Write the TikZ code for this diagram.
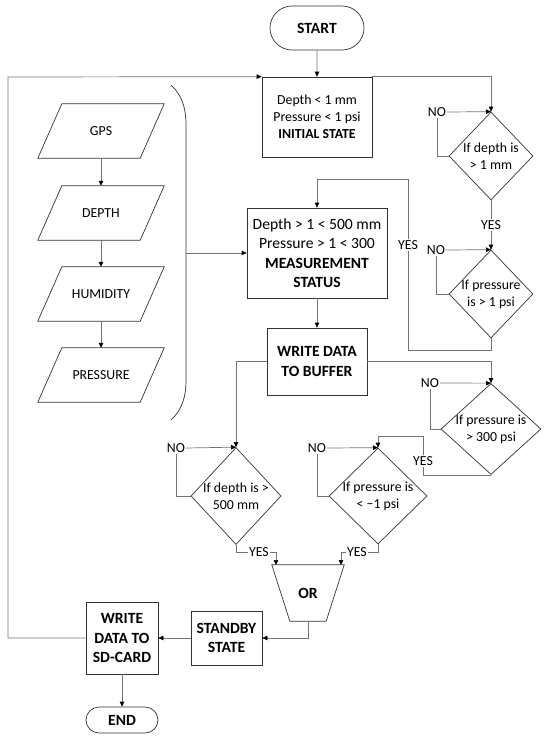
\documentclass[tikz,border=0pt]{standalone}
\usepackage{fontspec}
\setmainfont{Carlito}
\usetikzlibrary{shapes.geometric,shapes.misc,arrows.meta,calc}
\newcommand\txtA{\fontsize{13.8}{17}\selectfont}
\newcommand\txtB{\fontsize{15.6}{19.3}\selectfont}
\begin{document}
\begin{tikzpicture}[x=1pt,y=-1pt,
  shp/.style={draw=black!80,line width=0.7pt},
  conn/.style={draw=black!55,line width=0.7pt},
  arr/.style={-{Triangle[length=5pt,width=4.5pt,color=black]}},
  boxA/.style={shp,rectangle,inner sep=0pt,align=center,font=\txtB},
  term/.style={shp,rounded rectangle,inner sep=0pt,font=\txtB\bfseries},
  dia/.style={shp,diamond,inner sep=0pt},
  dlab/.style={font=\txtA,align=center},
  parabody/.style={rectangle,inner sep=0pt,minimum width=102pt,minimum height=54pt,font=\txtA},
  lab/.style={font=\txtA,inner sep=1pt}]
\useasboundingbox (0,0) rectangle (550,742);

% nodes
\node[term,minimum width=94pt,minimum height=44pt] (start) at (317,28) {START};
\node[boxA,font=\txtA,minimum width=110pt,minimum height=80pt] (init) at (317,117) {Depth < 1 mm\\Pressure < 1 psi\\\textbf{INITIAL STATE}};
\node[boxA,minimum width=140pt,minimum height=90pt] (meas) at (317,253) {Depth > 1 < 500 mm\\Pressure > 1 < 300\\\textbf{MEASUREMENT}\\\textbf{STATUS}};
\node[boxA,font=\txtB\bfseries,minimum width=100pt,minimum height=67pt] (buf) at (317,361.5) {WRITE DATA\\TO BUFFER};

\node[dia,minimum width=84pt,minimum height=88pt,label={[dlab]center:If depth is\\> 1 mm}] (d1) at (491,156) {};
\node[dia,minimum width=84pt,minimum height=88pt,label={[dlab]center:If pressure\\is > 1 psi}] (d2) at (491,294) {};
\node[dia,minimum width=100pt,minimum height=91pt,label={[dlab]center:If pressure is\\> 300 psi}] (d4) at (491,429) {};
\node[dia,minimum width=90pt,minimum height=97pt,label={[dlab]center:If depth is >\\500 mm}] (d3) at (236,496) {};
\node[dia,minimum width=98pt,minimum height=96pt,label={[dlab]center:If pressure is\\< −1 psi}] (d5) at (378,496) {};

\node[rectangle,inner sep=0pt,minimum width=36pt,minimum height=56pt,font=\txtB\bfseries] (or) at (308,593) {OR};
\draw[shp] ([xshift=-18pt]or.north west) -- ([xshift=18pt]or.north east) -- (or.south east) -- (or.south west) -- cycle;
\node[boxA,font=\txtB\bfseries,minimum width=71pt,minimum height=54pt] (standby) at (226.5,638) {STANDBY\\STATE};
\node[boxA,font=\txtB\bfseries,minimum width=72pt,minimum height=72pt] (sd) at (122,638) {WRITE\\DATA TO\\SD-CARD};
\node[term,minimum width=72pt,minimum height=26pt] (end) at (122,720) {END};

\node[parabody] (gps) at (101,131) {GPS};
\node[parabody] (depth) at (101,213) {DEPTH};
\node[parabody] (hum) at (101,294) {HUMIDITY};
\node[parabody] (pres) at (101,375) {PRESSURE};
\foreach \n in {gps,depth,hum,pres}
  \draw[shp] ([xshift=-12pt]\n.south west) -- ([xshift=-12pt]\n.south east) -- ([xshift=12pt]\n.north east) -- ([xshift=12pt]\n.north west) -- cycle;

% labels
\node[lab] (no1) at (437,112) {NO};
\node[lab] (no2) at (436,250) {NO};
\node[lab] (no4) at (430,383) {NO};
\node[lab] (no3) at (176,448) {NO};
\node[lab] (no5) at (317,448) {NO};
\node[lab] (yes1) at (491,225) {YES};
\node[lab] (yes2) at (408,245) {YES};
\node[lab] (yes4) at (423,461) {YES};
\node[lab] (yes3) at (259,552) {YES};
\node[lab] (yes5) at (357,552) {YES};

% coordinates
\coordinate (lb) at (8,638);
\coordinate (lt) at (8,77);
\coordinate (c2) at (317,179);
\coordinate (c2b) at (491,350);
\coordinate (c4) at (378,436);
\coordinate (or1) at (276,565);
\coordinate (or2) at (341,565);
\coordinate (brace) at (186,253);

% brace
\draw[shp] (171,85) .. controls (182,95) and (186,108) .. (186,125) -- (186,380) .. controls (186,397) and (182,410) .. (171,420);

% connectors
\draw[conn,arr] (start) -- (init);
\draw[conn,arr] (sd.west) -- (lb) -- (lt) -- (init.north west);
\draw[conn,arr] (init.north east) -| (d1.north);
\draw[conn] (d1.west) -| (no1.south);
\draw[conn,arr] (no1.east) -- (d1.north);
\draw[conn] (d1.south) -- (yes1.north);
\draw[conn,arr] (yes1.south) -- (d2.north);
\draw[conn] (d2.west) -| (no2.south);
\draw[conn,arr] (no2.east) -- (d2.north);
\draw[conn] (d2.south) -- (c2b) -| (yes2.south);
\draw[conn,arr] (yes2.north) |- (c2) -- (meas.north);
\draw[conn,arr] (brace) -- (meas.west);
\draw[conn,arr] (meas) -- (buf);
\draw[conn,arr] (buf.west) -| (d3.north);
\draw[conn,arr] (buf.east) -| (d4.north);
\draw[conn] (d4.west) -| (no4.south);
\draw[conn,arr] (no4.east) -- (d4.north);
\draw[conn] (d4.south) -| (yes4.south);
\draw[conn,arr] (yes4.north) |- (c4) -- (d5.north);
\draw[conn] (d3.west) -| (no3.south);
\draw[conn,arr] (no3.east) -- (d3.north);
\draw[conn] (d5.west) -| (no5.south);
\draw[conn,arr] (no5.east) -- (d5.north);
\draw[conn] (d3.south) |- (yes3.west);
\draw[conn,arr] (yes3.east) -| (or1);
\draw[conn] (d5.south) |- (yes5.east);
\draw[conn,arr] (yes5.west) -| (or2);
\draw[conn,arr] (or.south) |- (standby.east);
\draw[conn,arr] (standby) -- (sd);
\draw[conn,arr] (sd) -- (end);
\draw[conn,arr] (gps) -- (depth);
\draw[conn,arr] (depth) -- (hum);
\draw[conn,arr] (hum) -- (pres);
\end{tikzpicture}
\end{document}
